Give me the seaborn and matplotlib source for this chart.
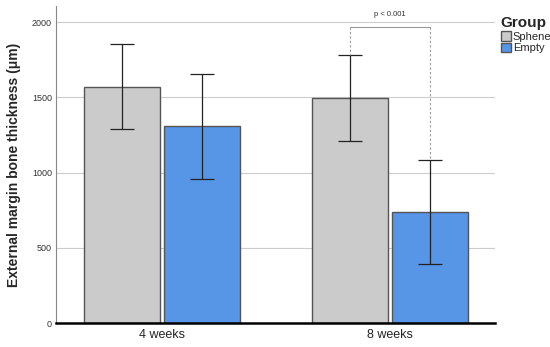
import pandas as pd
import matplotlib.pyplot as plt
import seaborn as sns

weeks = ["4 weeks", "8 weeks"]
groups = ["Sphene", "Empty"]
means = {"Sphene": [1570, 1495], "Empty": [1308, 740]}
err_low = {"Sphene": [1287, 1212], "Empty": [958, 393]}
err_high = {"Sphene": [1857, 1780], "Empty": [1655, 1085]}
colors = {"Sphene": "#cbcbcb", "Empty": "#5795e6"}
p_text = "p < 0.001"

rows = []
for g in groups:
    for w, m in zip(weeks, means[g]):
        rows.append({"week": w, "Group": g, "value": m})
df = pd.DataFrame(rows)

sns.set_style("white")
plt.rcParams['font.family'] = ['Liberation Sans', 'DejaVu Sans']

fig = plt.figure(figsize=(5.5, 3.47), dpi=100)
ax = fig.add_axes([0.102, 0.069, 0.798, 0.914])

sns.barplot(data=df, x="week", y="value", hue="Group", order=weeks,
            hue_order=groups, palette=colors, width=0.7, gap=0.05,
            saturation=1, errorbar=None, edgecolor="#555555", linewidth=1.0,
            ax=ax, zorder=2)

centers = {}
for g, cont in zip(groups, ax.containers):
    xs = [b.get_x() + b.get_width() / 2 for b in cont]
    centers[g] = xs
    lo = [m - l for m, l in zip(means[g], err_low[g])]
    hi = [h - m for m, h in zip(means[g], err_high[g])]
    ax.errorbar(xs, means[g], yerr=[lo, hi], fmt="none", ecolor="#222222",
                elinewidth=0.9, capsize=8.5, capthick=0.9, zorder=3)

# significance bracket for 8 weeks
x1, x2 = centers["Sphene"][1], centers["Empty"][1]
ytop = 1965
ax.plot([x1, x2], [ytop, ytop], color="#999999", lw=0.8, zorder=3)
ax.plot([x1, x1], [ytop, err_high["Sphene"][1]], color="#999999", lw=0.8,
        ls=(0, (2, 2)), zorder=3)
ax.plot([x2, x2], [ytop, err_high["Empty"][1]], color="#999999", lw=0.8,
        ls=(0, (2, 2)), zorder=3)
ax.text((x1 + x2) / 2, 2050, p_text, ha="center", va="center", fontsize=5.5,
        color="#333333")

ax.set_ylim(0, 2108)
ax.set_xlim(-0.465, 1.46)
ax.set_yticks([0, 500, 1000, 1500, 2000])
ax.yaxis.grid(True, color="#cccccc", lw=0.8, zorder=0)
ax.set_axisbelow(True)
ax.tick_params(axis="y", labelsize=6.5, labelcolor="#333333", length=0, pad=3)
ax.tick_params(axis="x", labelsize=9, labelcolor="#222222", length=0, pad=4)
ax.set_xlabel("")
ax.set_ylabel("External margin bone thickness (\u03bcm)", fontsize=10,
              fontweight="bold", labelpad=8)

for s in ["top", "right"]:
    ax.spines[s].set_visible(False)
ax.spines["left"].set_color("#888888")
ax.spines["left"].set_linewidth(0.8)
ax.spines["bottom"].set_color("black")
ax.spines["bottom"].set_linewidth(1.8)

leg = ax.legend(title="Group", loc="upper left", bbox_to_anchor=(1.0, 0.985),
                frameon=False, fontsize=8, handlelength=0.9,
                handleheight=0.9, handletextpad=0.2, labelspacing=0.1,
                borderaxespad=0.3, borderpad=0.2)
leg.get_title().set_fontweight("bold")
leg.get_title().set_fontsize(11)
leg._legend_box.align = "left"

fig.savefig("out.png", dpi=100)
